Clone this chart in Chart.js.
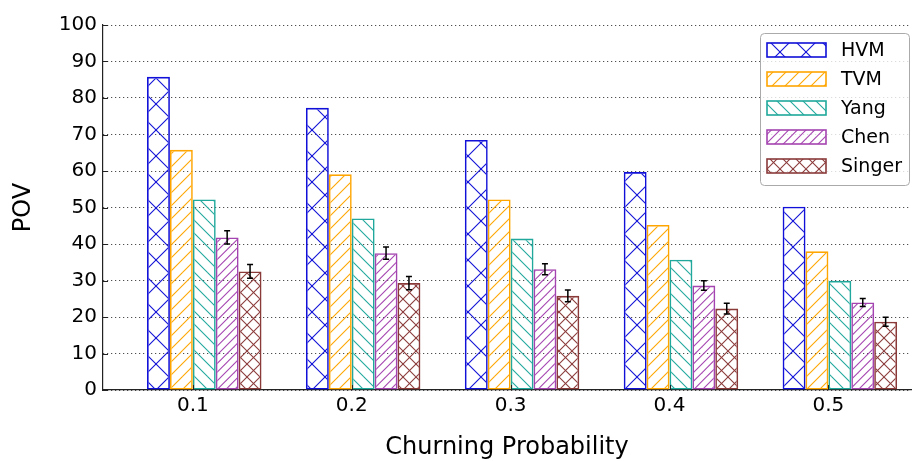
<!DOCTYPE html>
<html><head><meta charset="utf-8">
<script src="https://cdn.jsdelivr.net/npm/chart.js@4/dist/chart.umd.min.js"></script>
<style>html,body{margin:0;padding:0;background:#fff;}</style>
</head><body>
<canvas id="c" width="912" height="461" style="display:block;width:912px;height:461px"></canvas>
<script>
// ---- data ----
const categories = ['0.1', '0.2', '0.3', '0.4', '0.5'];
const seriesNames = ['HVM', 'TVM', 'Yang', 'Chen', 'Singer'];
const hvm    = [85.8, 77.3, 68.5, 59.7, 50.2];
const tvm    = [65.8, 59.1, 52.2, 45.2, 38.0];
const yang   = [52.2, 47.0, 41.5, 35.7, 29.9];
const chen   = [41.8, 37.5, 33.1, 28.6, 24.0];
const singer = [32.5, 29.3, 25.8, 22.3, 18.7];
const chenErr   = [1.8, 1.7, 1.5, 1.3, 1.1];
const singerErr = [1.9, 1.8, 1.6, 1.5, 1.2];
const yTicks = [0, 10, 20, 30, 40, 50, 60, 70, 80, 90, 100];

// ---- styling ----
const FONT = 'DejaVu Sans';
const colors = ['#1010d8', '#ffa500', '#20a89c', '#a444b0', '#8b3a3a'];
const hatches = [['ne','nw',26], ['ne',null,13], [null,'nw',13], ['ne',null,26/3], ['ne','nw',13]];
const BARW = 0.1441;           // bar width in group units
const series = [hvm, tvm, yang, chen, singer];
const errors = [null, null, null, chenErr, singerErr];

const canvas = document.getElementById('c');
const mainCtx = canvas.getContext('2d');

function makePattern(color, a, b, s) {
  const T = 26;
  const c = document.createElement('canvas'); c.width = T; c.height = T;
  const g = c.getContext('2d');
  g.strokeStyle = color; g.lineWidth = 1.1;
  for (let k = -2 * T; k <= 3 * T + 0.01; k += s) {
    if (a) { g.beginPath(); g.moveTo(k - T, 2 * T); g.lineTo(k + 2 * T, -T); g.stroke(); }
    if (b) { g.beginPath(); g.moveTo(k - T, -T); g.lineTo(k + 2 * T, 2 * T); g.stroke(); }
  }
  return mainCtx.createPattern(c, 'repeat');
}
const patterns = colors.map((c, i) => makePattern(c, hatches[i][0], hatches[i][1], hatches[i][2]));

const datasets = series.map((vals, si) => ({
  label: seriesNames[si],
  data: vals.map((v, i) => ({ x: i + 2.5 * BARW, y: v })),
  backgroundColor: patterns[si],
  borderColor: colors[si],
  borderWidth: 1.6,
  borderSkipped: false,
  barPercentage: 1.0,
  categoryPercentage: 5 * BARW
}));

const errorBars = {
  id: 'errorBars',
  afterDatasetsDraw(chart) {
    const ctx = chart.ctx, ys = chart.scales.y;
    ctx.save();
    ctx.strokeStyle = '#000'; ctx.lineWidth = 1.5;
    errors.forEach((err, di) => {
      if (!err) return;
      const meta = chart.getDatasetMeta(di);
      meta.data.forEach((bar, i) => {
        const v = series[di][i];
        const top = ys.getPixelForValue(v + err[i]);
        const bot = ys.getPixelForValue(v - err[i]);
        const x = bar.x;
        ctx.beginPath();
        ctx.moveTo(x, top); ctx.lineTo(x, bot);
        ctx.moveTo(x - 3, top); ctx.lineTo(x + 3, top);
        ctx.moveTo(x - 3, bot); ctx.lineTo(x + 3, bot);
        ctx.stroke();
      });
    });
    ctx.restore();
  }
};

const innerTicks = {
  id: 'innerTicks',
  afterDraw(chart) {
    const ctx = chart.ctx, xs = chart.scales.x, ys = chart.scales.y, a = chart.chartArea;
    ctx.save();
    ctx.strokeStyle = '#222'; ctx.lineWidth = 1;
    yTicks.forEach(v => {
      const p = Math.round(ys.getPixelForValue(v)) + 0.5;
      ctx.beginPath(); ctx.moveTo(a.left, p); ctx.lineTo(a.left + 5, p); ctx.stroke();
    });
    xs.ticks.forEach((t, i) => {
      const p = Math.round(xs.getPixelForTick(i)) + 0.5;
      ctx.beginPath(); ctx.moveTo(p, a.bottom); ctx.lineTo(p, a.bottom - 5); ctx.stroke();
    });
    ctx.restore();
  }
};

function roundRect(ctx, x, y, w, h, r) {
  ctx.beginPath();
  ctx.moveTo(x + r, y); ctx.lineTo(x + w - r, y); ctx.quadraticCurveTo(x + w, y, x + w, y + r);
  ctx.lineTo(x + w, y + h - r); ctx.quadraticCurveTo(x + w, y + h, x + w - r, y + h);
  ctx.lineTo(x + r, y + h); ctx.quadraticCurveTo(x, y + h, x, y + h - r);
  ctx.lineTo(x, y + r); ctx.quadraticCurveTo(x, y, x + r, y);
  ctx.closePath();
}

const hatchLegend = {
  id: 'hatchLegend',
  afterDraw(chart) {
    const ctx = chart.ctx;
    const bx = 760.5, by = 33.5, bw = 149, bh = 152;
    ctx.save();
    roundRect(ctx, bx, by, bw, bh, 4);
    ctx.fillStyle = 'rgba(255,255,255,0.8)'; ctx.fill();
    ctx.strokeStyle = '#aaaaaa'; ctx.lineWidth = 1; ctx.stroke();
    chart.data.datasets.forEach((ds, i) => {
      const cy = 50 + i * 29;
      ctx.fillStyle = ds.backgroundColor;
      ctx.fillRect(767, cy - 7, 59, 14);
      ctx.strokeStyle = ds.borderColor; ctx.lineWidth = 1.6;
      ctx.strokeRect(767, cy - 7, 59, 14);
      ctx.fillStyle = '#000';
      ctx.font = '19px "' + FONT + '"';
      ctx.textBaseline = 'middle'; ctx.textAlign = 'left';
      ctx.fillText(ds.label, 841, cy + 1);
    });
    ctx.restore();
  }
};

new Chart(canvas, {
  type: 'bar',
  data: { datasets },
  options: {
    responsive: false,
    animation: false,
    devicePixelRatio: 1,
    layout: { padding: { top: 25, right: 1, bottom: 0, left: 0 } },
    plugins: { legend: { display: false }, tooltip: { enabled: false } },
    scales: {
      x: {
        type: 'linear',
        offset: false,
        bounds: 'data',
        min: -0.277, max: 4.808,
        afterBuildTicks: s => { s.ticks = categories.map((c, i) => ({ value: i + 2 * BARW })); },
        afterFit: s => { s.height = 71; },
        ticks: {
          autoSkip: false, maxRotation: 0, padding: 4,
          color: '#000', font: { family: FONT, size: 20 },
          callback: (v, idx) => categories[idx]
        },
        grid: { display: false, offset: false, drawTicks: false },
        border: { display: true, color: '#222', width: 1.2 },
        title: { display: true, text: 'Churning Probability', color: '#000',
                 font: { family: FONT, size: 24, lineHeight: 1.0 }, padding: { top: 0, bottom: 1 } }
      },
      y: {
        min: 0, max: 100,
        z: 1,
        afterBuildTicks: s => { s.ticks = yTicks.map(v => ({ value: v })); },
        afterFit: s => { s.width = 103; },
        ticks: { padding: 6, color: '#000', font: { family: FONT, size: 20 } },
        grid: { color: 'rgba(0,0,0,0.85)', lineWidth: 1, drawTicks: false, tickBorderDash: [1, 3] },
        border: { display: true, color: '#222', width: 1.2, dash: [1, 3] },
        title: { display: true, text: 'POV', color: '#000',
                 font: { family: FONT, size: 24 }, padding: { top: 9, bottom: 0 } }
      }
    }
  },
  plugins: [errorBars, innerTicks, hatchLegend]
});
</script>
</body></html>
